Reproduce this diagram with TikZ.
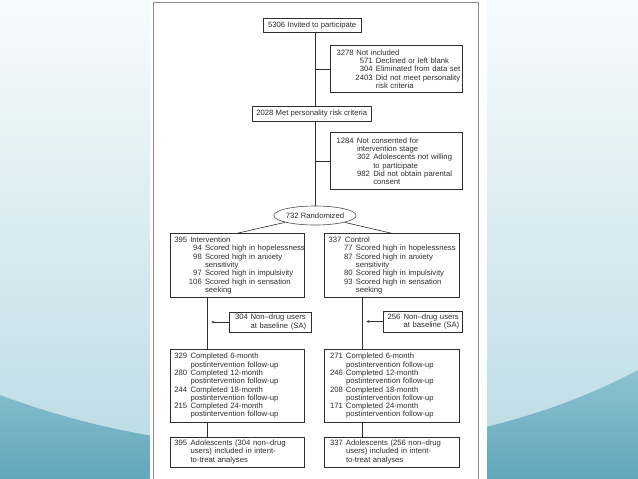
\documentclass[tikz,border=0pt]{standalone}
\usepackage{fontspec}
\setmainfont{Liberation Sans}
\usetikzlibrary{shapes.geometric,arrows.meta}
\definecolor{ink}{HTML}{2E2E2E}
\definecolor{frame}{HTML}{8A8A8A}
\definecolor{skytop}{HTML}{F7FBFD}
\definecolor{skylow}{HTML}{B9DAE4}
\definecolor{wavetop}{HTML}{8DC2D1}
\definecolor{wavelow}{HTML}{62A6BA}
\newcommand{\numcol}[3]{\mbox{\makebox[#1][r]{#2}\hspace{3.3pt}#3}}
\newcommand{\headcol}[3]{\mbox{\makebox[#1][l]{#2}#3}}

\begin{document}
\begin{tikzpicture}[x=1pt,y=-1pt,
  font=\fontsize{7.7}{8.3}\selectfont, text=ink,
  box/.style={draw=ink, line width=0.6pt, rectangle, inner ysep=0pt, align=left, anchor=north west},
  link/.style={draw=ink, line width=0.6pt},
  arr/.style={link, -{Stealth[length=3pt,width=2.6pt]}, shorten >=4pt}]
\useasboundingbox (0,0) rectangle (638,479);
% slide background
\shade[top color=skytop, middle color=skytop, bottom color=skylow] (0,0) rectangle (638,479);
\shade[top color=wavetop, bottom color=wavelow] (0,395) .. controls (200,470) and (450,470) .. (638,370) -- (638,479) -- (0,479) -- cycle;
% page
\fill[white] (150,0) rectangle (487,479);
\draw[frame, line width=1.2pt] (153.5,479) -- (153.5,2.7) -- (478.5,2.7) -- (478.5,479);

% screening
\node[box, anchor=center, align=center, inner sep=0pt, minimum width=98.3pt, minimum height=14.4pt] (invite) at (312.2,25.5) {5306 Invited to participate};
\node[box, inner xsep=6pt, text width=120pt, minimum height=47.3pt] (excl1) at (330.3,45) {3278 Not included\\
\numcol{36pt}{571}{Declined or left blank}\\
\numcol{36pt}{304}{Eliminated from data set}\\
\numcol{36pt}{2403}{Did not meet personality}\\
\numcol{36pt}{}{risk criteria}};
\node[box, anchor=center, align=center, inner sep=0pt, minimum width=119pt, minimum height=15pt] (met) at (311.8,113.5) {2028 Met personality risk criteria};
\node[box, inner xsep=6pt, text width=120pt, minimum height=57pt] (excl2) at (330.3,132.3) {\headcol{20.4pt}{1284}{Not consented for}\\
\headcol{20.4pt}{}{intervention stage}\\
\numcol{33.4pt}{302}{Adolescents not willing}\\
\numcol{33.4pt}{}{to participate}\\
\numcol{33.4pt}{982}{Did not obtain parental}\\
\numcol{33.4pt}{}{consent}};
\node[draw=ink!85, line width=0.6pt, ellipse, inner sep=0pt, minimum width=80.6pt, minimum height=19pt] (rand) at (315,215.5) {732 Randomized};

% arms
\node[box, inner xsep=4.3pt, text width=125.4pt, minimum height=64pt] (interv) at (169.7,233.3) {\headcol{16pt}{395}{Intervention}\\
\numcol{27.5pt}{94}{Scored high in hopelessness}\\
\numcol{27.5pt}{98}{Scored high in anxiety}\\
\numcol{27.5pt}{}{sensitivity}\\
\numcol{27.5pt}{97}{Scored high in impulsivity}\\
\numcol{27.5pt}{106}{Scored high in sensation}\\
\numcol{27.5pt}{}{seeking}};
\node[box, inner xsep=4.3pt, text width=126.1pt, minimum height=64pt] (control) at (324,233.3) {\headcol{16.4pt}{337}{Control}\\
\numcol{24pt}{77}{Scored high in hopelessness}\\
\numcol{24pt}{87}{Scored high in anxiety}\\
\numcol{24pt}{}{sensitivity}\\
\numcol{24pt}{80}{Scored high in impulsivity}\\
\numcol{24pt}{93}{Scored high in sensation}\\
\numcol{24pt}{}{seeking}};
\node[box, inner xsep=5.7pt, text width=70.9pt, minimum height=20pt] (nd1) at (229,311.7) {\headcol{15.6pt}{304}{Non–drug users}\\
\headcol{15.6pt}{}{at baseline (SA)}};
\node[box, inner xsep=4pt, text width=70.7pt, minimum height=21pt] (nd2) at (383.3,310.7) {\headcol{16pt}{256}{Non–drug users}\\
\headcol{16pt}{}{at baseline (SA)}};

% follow-up
\node[box, inner xsep=4.3pt, text width=125.4pt, minimum height=73.3pt] (fu1) at (169.7,349) {\headcol{16.3pt}{329}{Completed 6-month}\\
\headcol{16.3pt}{}{postintervention follow-up}\\
\headcol{16.3pt}{280}{Completed 12-month}\\
\headcol{16.3pt}{}{postintervention follow-up}\\
\headcol{16.3pt}{244}{Completed 18-month}\\
\headcol{16.3pt}{}{postintervention follow-up}\\
\headcol{16.3pt}{215}{Completed 24-month}\\
\headcol{16.3pt}{}{postintervention follow-up}};
\node[box, inner xsep=5.7pt, text width=123.3pt, minimum height=73.3pt] (fu2) at (324,349) {\headcol{16pt}{271}{Completed 6-month}\\
\headcol{16pt}{}{postintervention follow-up}\\
\headcol{16pt}{246}{Completed 12-month}\\
\headcol{16pt}{}{postintervention follow-up}\\
\headcol{16pt}{208}{Completed 18-month}\\
\headcol{16pt}{}{postintervention follow-up}\\
\headcol{16pt}{171}{Completed 24-month}\\
\headcol{16pt}{}{postintervention follow-up}};
\node[box, inner xsep=4.3pt, text width=125.4pt, minimum height=30pt] (fin1) at (169.7,436.7) {\headcol{16.3pt}{395}{Adolescents (304 non–drug}\\
\headcol{16.3pt}{}{users) included in intent-}\\
\headcol{16.3pt}{}{to-treat analyses}};
\node[box, inner xsep=5.7pt, text width=123.3pt, minimum height=30pt] (fin2) at (324,436.7) {\headcol{16pt}{337}{Adolescents (256 non–drug}\\
\headcol{16pt}{}{users) included in intent-}\\
\headcol{16pt}{}{to-treat analyses}};

\coordinate (lspine) at (207.3,0);
\coordinate (rspine) at (362.3,0);

% connectors
\draw[link] (invite.south -| rand) -- (met.north -| rand);
\draw[link] (met.south -| rand) -- (rand.north);
\draw[link] (excl1.west) -- (excl1.west -| rand);
\draw[link] (excl2.west) -- (excl2.west -| rand);
\draw[link] (rand) -- (interv.north);
\draw[link] (rand) -- (control.north);
\draw[link] (interv.south -| lspine) -- (fu1.north -| lspine);
\draw[link] (fu1.south -| lspine) -- (fin1.north -| lspine);
\draw[link] (control.south -| rspine) -- (fu2.north -| rspine);
\draw[link] (fu2.south -| rspine) -- (fin2.north -| rspine);
\draw[arr] (nd1.west) -- (nd1.west -| lspine);
\draw[arr] (nd2.west) -- (nd2.west -| rspine);
\end{tikzpicture}
\end{document}
